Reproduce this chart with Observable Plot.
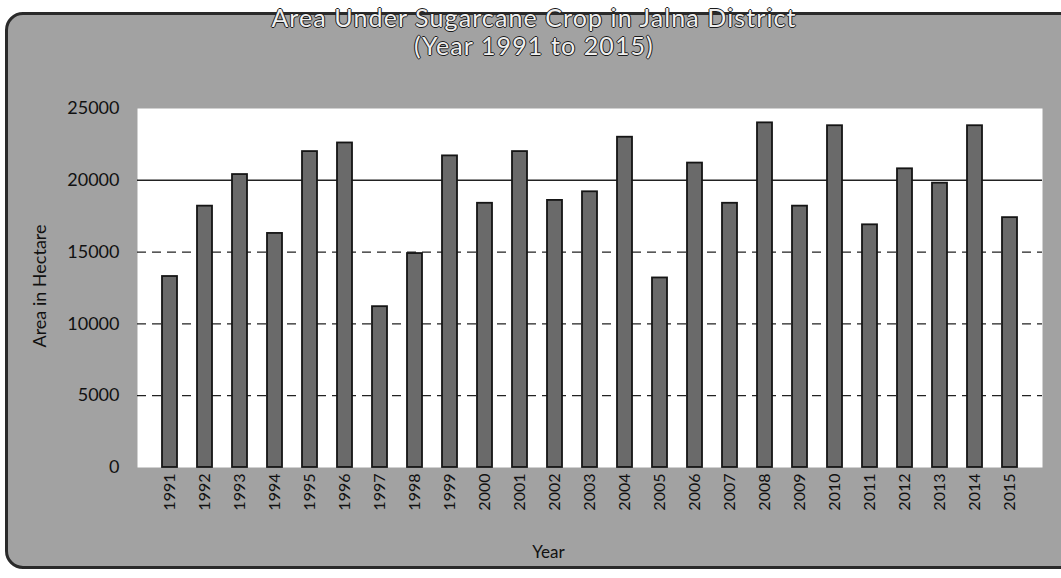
<!DOCTYPE html>
<html>
<head>
<meta charset="utf-8">
<script src="https://cdn.jsdelivr.net/npm/d3@7"></script>
<script src="https://cdn.jsdelivr.net/npm/@observablehq/plot@0.6"></script>
<style>
  html, body { margin: 0; padding: 0; background: #ffffff; overflow: hidden; }
  #wrap { position: relative; width: 1061px; height: 578px; overflow: hidden; font-family: Lato, "Open Sans", sans-serif; }
  #panel { position: absolute; left: 5px; top: 12px; width: 1080px; height: 551px; background: #a2a2a2; border: 3px solid #2a2a2a; border-radius: 18px; }
  #chart { position: absolute; left: 0; top: 0; }
  .title { position: absolute; left: 0; top: 3px; width: 1068px; text-align: center; font-size: 25px; line-height: 28px; color: #efefef; text-shadow: -1px 0 #1a1a1a, 1px 0 #1a1a1a, 0 -1px #1a1a1a, 0 1px #1a1a1a; letter-spacing: 1.1px; }
</style>
</head>
<body>
<div id="wrap">
  <div id="panel"></div>
  <div id="chart"></div>
  <div class="title">Area Under Sugarcane Crop in Jalna District<br>(Year 1991 to 2015)</div>
</div>
<script>
const years = ["1991","1992","1993","1994","1995","1996","1997","1998","1999","2000","2001","2002","2003","2004","2005","2006","2007","2008","2009","2010","2011","2012","2013","2014","2015"];
const areas = [13300, 18200, 20400, 16300, 22000, 22600, 11200, 14900, 21700, 18400, 22000, 18600, 19200, 23000, 13200, 21200, 18400, 24000, 18200, 23800, 16900, 20800, 19800, 23800, 17400];
const yTicks = [0, 5000, 10000, 15000, 20000, 25000];
const dashedGrid = [5000, 10000, 15000];
const solidGrid = [20000];
const yTitle = "Area in Hectare";
const xTitle = "Year";

const data = years.map((y, i) => ({year: y, area: areas[i]}));

const plot = Plot.plot({
  width: 1061,
  height: 578,
  marginLeft: 137,
  marginRight: 19,
  marginTop: 108,
  marginBottom: 111,
  style: {background: "transparent", fontFamily: "Lato, 'Open Sans', sans-serif", fontSize: "16px", color: "#111"},
  x: {domain: years, paddingInner: 0.58, paddingOuter: 0.43},
  y: {domain: [0, 25000]},
  marks: [
    Plot.frame({fill: "white", stroke: "none"}),
    Plot.ruleY(dashedGrid, {stroke: "#222", strokeWidth: 1.2, strokeDasharray: "9,6"}),
    Plot.ruleY(solidGrid, {stroke: "#222", strokeWidth: 1.4}),
    Plot.barY(data, {x: "year", y: "area", fill: "#6a6a6a", stroke: "#151515", strokeWidth: 1.8}),
    Plot.axisX({tickRotate: -90, tickSize: 0, tickPadding: 6, label: null, fontSize: 16}),
    Plot.axisY({ticks: yTicks, tickSize: 0, tickPadding: 18, tickFormat: d => String(d), label: null, fontSize: 18}),
    Plot.text([yTitle], {frameAnchor: "left", textAnchor: "middle", dx: -97, dy: -2, rotate: -90, fontSize: 18, fill: "#111"}),
    Plot.text([xTitle], {frameAnchor: "bottom-left", textAnchor: "middle", dx: 411, dy: 90, fontSize: 17, fill: "#111"})
  ]
});
document.getElementById("chart").appendChild(plot);
</script>
</body>
</html>
